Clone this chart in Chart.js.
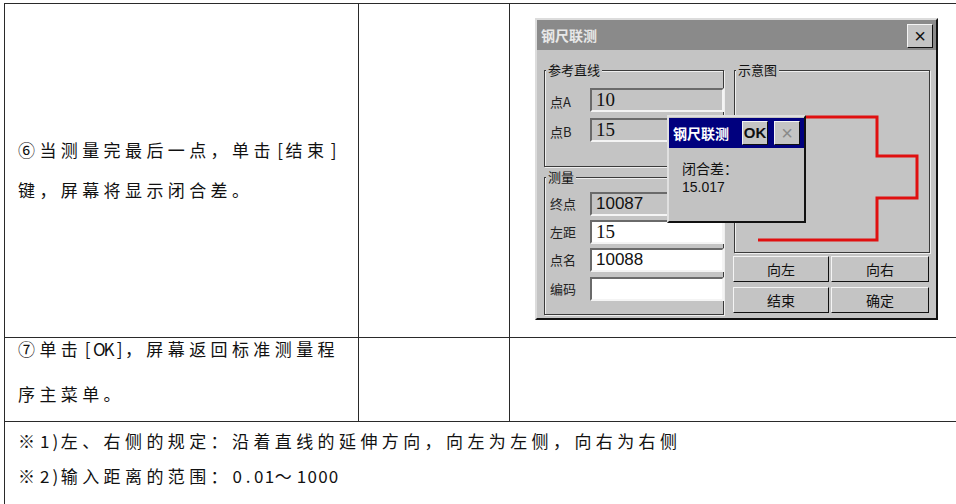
<!DOCTYPE html>
<html>
<head>
<meta charset="utf-8">
<script src="https://cdn.jsdelivr.net/npm/chart.js@4/dist/chart.umd.min.js"></script>
<style>
  body { margin: 0; width: 956px; height: 504px; background: #fff; position: relative; overflow: hidden;
         font-family: "Noto Sans CJK SC", sans-serif; color: #111; }
  .ln { position: absolute; background: #2a2a2a; }
  .txt { position: absolute; left: 18px; font-size: 17px; letter-spacing: 4.4px; white-space: nowrap; line-height: 20px; }
  .txt .h { display: inline-block; width: 10.7px; text-align: center; letter-spacing: 0; }
  .abs { position: absolute; }
  .dlg { left: 535px; top: 18px; width: 399px; height: 298px; background: #c4c4c4;
         border: 2px solid; border-color: #dcdcdc #111 #111 #dcdcdc; }
  .bar { left: 537px; top: 20px; width: 399px; height: 30px; background: #8a8a8a; }
  .ttl { font-weight: bold; color: #fff; font-size: 14px; line-height: 30px; }
  .grp { border: 1px solid #3a3a3a; box-shadow: 1px 1px 0 #eee, inset 1px 1px 0 #eee; }
  .glab { font-size: 13px; background: #c4c4c4; padding: 0 2px; line-height: 16px; color: #111; }
  .lab { font-size: 13px; line-height: 24px; left: 550px; color: #222; }
  .inp { left: 590px; width: 126px; height: 20px; border: 2px solid; border-color: #6a6a6a #f4f4f4 #f4f4f4 #6a6a6a;
         line-height: 20px; padding-left: 4px; box-sizing: content-box; }
  .ro { background: #c4c4c4; }
  .wr { background: #fff; }
  .serif { font-family: "Liberation Serif", serif; font-size: 19px; }
  .sans { font-family: "Liberation Sans", sans-serif; font-size: 17px; }
  .btn { width: 94px; height: 24px; border: 1px solid; border-color: #f4f4f4 #111 #111 #f4f4f4;
         text-align: center; font-size: 14px; line-height: 24px; background: #c4c4c4; }
  .pop { left: 667px; top: 115px; width: 135px; height: 104px; background: #c2c2c2;
         border: 2px solid; border-color: #e0e0e0 #111 #111 #e0e0e0; }
</style>
</head>
<body>
<!-- table grid -->
<div class="ln" style="left:4px;top:3px;width:952px;height:1px"></div>
<div class="ln" style="left:4px;top:3px;width:1px;height:501px"></div>
<div class="ln" style="left:358px;top:3px;width:1px;height:418px"></div>
<div class="ln" style="left:509px;top:3px;width:1px;height:418px"></div>
<div class="ln" style="left:4px;top:337px;width:952px;height:1px"></div>
<div class="ln" style="left:4px;top:421px;width:952px;height:1px"></div>

<div class="txt" style="top:140px">⑥当测量完最后一点，单击[结束]</div>
<div class="txt" style="top:180px">键，屏幕将显示闭合差。</div>
<div class="txt" style="top:339px">⑦单击[OK]，屏幕返回标准测量程</div>
<div class="txt" style="top:384px">序主菜单。</div>
<div class="txt" style="top:431px">※1)左、右侧的规定：沿着直线的延伸方向，向左为左侧，向右为右侧</div>
<div class="txt" style="top:466px">※2)输入距离的范围：0.01～1000</div>

<!-- device dialog -->
<div class="abs dlg"></div>
<div class="abs bar"></div>
<div class="abs ttl" style="left:541px;top:20px;color:#e8e8e8">钢尺联测</div>
<div class="abs btn" style="left:907px;top:24px;width:24px;height:22px;line-height:22px;font-size:20px;font-family:'Liberation Sans'">×</div>

<div class="abs grp" style="left:544px;top:70px;width:178px;height:95px"></div>
<div class="abs glab" style="left:546px;top:62px">参考直线</div>
<div class="abs grp" style="left:544px;top:177px;width:178px;height:136px"></div>
<div class="abs glab" style="left:546px;top:169px">测量</div>
<div class="abs grp" style="left:734px;top:70px;width:194px;height:181px"></div>
<div class="abs glab" style="left:736px;top:62px">示意图</div>

<div class="abs lab" style="top:90px">点A</div>
<div class="abs inp ro serif" style="top:88px">10</div>
<div class="abs lab" style="top:120px">点B</div>
<div class="abs inp ro serif" style="top:118px">15</div>

<div class="abs lab" style="top:192px">终点</div>
<div class="abs inp ro sans" style="top:192px">10087</div>
<div class="abs lab" style="top:220px">左距</div>
<div class="abs inp wr serif" style="top:220px">15</div>
<div class="abs lab" style="top:248px">点名</div>
<div class="abs inp wr sans" style="top:248px">10088</div>
<div class="abs lab" style="top:277px">编码</div>
<div class="abs inp wr" style="top:277px"></div>

<div class="abs btn" style="left:733px;top:256px">向左</div>
<div class="abs btn" style="left:831px;top:256px;width:96px">向右</div>
<div class="abs btn" style="left:733px;top:287px">结束</div>
<div class="abs btn" style="left:831px;top:287px;width:96px">确定</div>

<canvas id="sketch" class="abs" width="190" height="170" style="left:736px;top:80px"></canvas>

<!-- closure popup -->
<div class="abs pop"></div>
<div class="abs" style="left:669px;top:118px;width:135px;height:30px;background:#00007e"></div>
<div class="abs ttl" style="left:673px;top:118px">钢尺联测</div>
<div class="abs btn" style="left:742px;top:121px;width:24px;height:22px;line-height:22px;font-weight:bold;font-family:'Liberation Sans';font-size:15px">OK</div>
<div class="abs btn" style="left:774px;top:121px;width:24px;height:22px;line-height:22px;color:#8a8a8a;font-size:20px;font-family:'Liberation Sans'">×</div>
<div class="abs" style="left:682px;top:159px;font-size:14px;line-height:18px">闭合差：</div>
<div class="abs" style="left:682px;top:178px;font-size:14px;line-height:18px;font-family:'Liberation Sans'">15.017</div>

<script>
// traverse path in the sketch, metres along / across the reference line
const pathX = [0, 11.9, 11.9, 15.9, 15.9, 11.9, 11.9, 0];
const pathY = [0, 0, 3.9, 3.9, 8.1, 8.1, 12.3, 12.3];

// half-width characters sit on a fixed half-em pitch, like the source document font
document.querySelectorAll(".txt").forEach((el) => {
  el.innerHTML = el.textContent.replace(/[\x21-\x7e]/g, (c) => '<span class="h">' + c + "</span>");
});

const points = pathX.map((x, i) => ({ x, y: pathY[i] }));

new Chart(document.getElementById("sketch"), {
  type: "scatter",
  data: {
    datasets: [
      {
        data: points,
        showLine: true,
        borderColor: "#e01010",
        borderWidth: 3,
        pointRadius: 0,
        tension: 0,
      },
    ],
  },
  options: {
    responsive: false,
    animation: false,
    layout: { padding: 0 },
    plugins: {
      legend: { display: false },
      tooltip: { enabled: false },
    },
    scales: {
      x: { type: "linear", min: -2.2, max: 16.8, display: false },
      y: { type: "linear", min: -3.7, max: 13.3, reverse: true, display: false },
    },
  },
});
</script>
</body>
</html>
